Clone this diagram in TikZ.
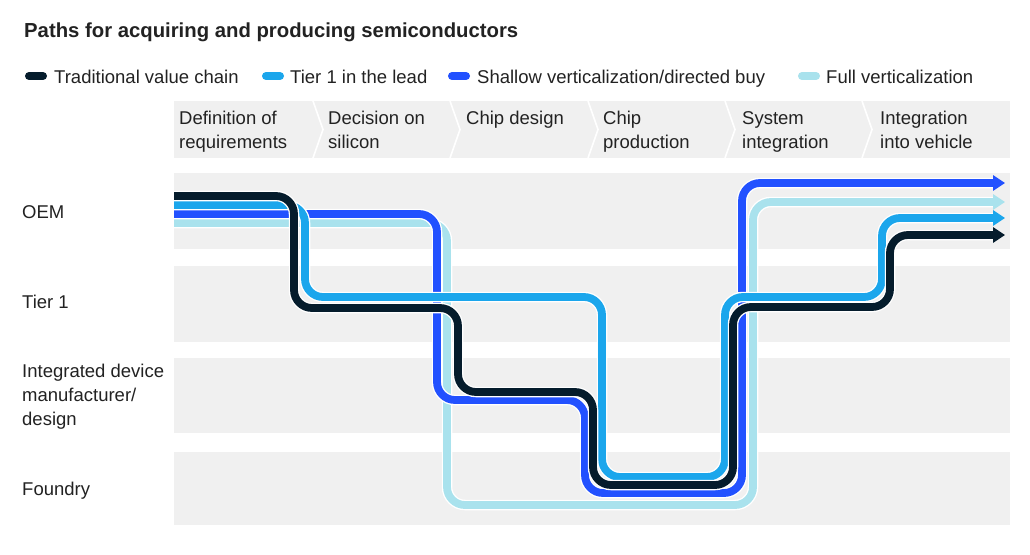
\documentclass[tikz,border=0pt]{standalone}
\usepackage{fontspec}
\setmainfont{Liberation Sans}
\usetikzlibrary{arrows.meta}
\definecolor{cBlack}{HTML}{051C2C}
\definecolor{cCyan}{HTML}{1BA6EC}
\definecolor{cBlue}{HTML}{2251FF}
\definecolor{cLight}{HTML}{A9E2ED}
\definecolor{band}{HTML}{F0F0F0}
\definecolor{txt}{HTML}{222222}
\tikzset{
  lbl/.style={anchor=base west, inner sep=0pt, text=txt, font=\fontsize{18.5}{24}\selectfont},
  mlbl/.style={anchor=north west, inner sep=0pt, align=left, text=txt, font=\fontsize{18.5}{24}\selectfont},
  bandbox/.style={fill=band, draw=none},
  sep/.style={draw=white, line width=1.6pt},
  outline/.style={draw=white, line width=10.5pt, rounded corners=18pt},
  route/.style={line width=7.8pt, rounded corners=18pt},
  tip/.style={-{Triangle[length=12pt,width=15pt]}},
  swatch/.style={line width=8pt, line cap=round},
}
\begin{document}
\begin{tikzpicture}[x=1pt,y=-1pt]
\useasboundingbox (0,0) rectangle (1030,554);
\fill[white] (0,0) rectangle (1030,554);

% title
\node[anchor=base west, inner sep=0pt, text=txt, font=\fontsize{20.3}{24}\selectfont\bfseries] (title) at (24,37) {Paths for acquiring and producing semiconductors};

% legend
\draw[swatch, cBlack] (29,76) -- (43,76);
\node[lbl] (lg1) at (54,83) {Traditional value chain};
\draw[swatch, cCyan] (266,76) -- (280,76);
\node[lbl] (lg2) at (290,83) {Tier 1 in the lead};
\draw[swatch, cBlue] (452,76) -- (466,76);
\node[lbl] (lg3) at (477,83) {Shallow verticalization/directed buy};
\draw[swatch, cLight] (802,76) -- (816,76);
\node[lbl] (lg4) at (826,83) {Full verticalization};

% header band
\fill[bandbox] (174,101) rectangle (1010,158);
\foreach \x in {313,450,588,725,862}{
  \draw[sep] (\x,101) -- (\x+10,129.5) -- (\x,158);
}
\node[mlbl] (h1) at (179,111) {Definition of\\requirements};
\node[mlbl] (h2) at (328,111) {Decision on\\silicon};
\node[mlbl] (h3) at (466,111) {Chip design};
\node[mlbl] (h4) at (603,111) {Chip\\production};
\node[mlbl] (h5) at (742,111) {System\\integration};
\node[mlbl] (h6) at (880,111) {Integration\\into vehicle};

% row bands
\fill[bandbox] (174,173) rectangle (1010,249);
\fill[bandbox] (174,266) rectangle (1010,342);
\fill[bandbox] (174,358) rectangle (1010,433);
\fill[bandbox] (174,452) rectangle (1010,525);

% row labels
\node[lbl] (r1) at (22,218) {OEM};
\node[lbl] (r2) at (22,308) {Tier 1};
\node[mlbl] (r3) at (22,364) {Integrated device\\manufacturer/\\design};
\node[lbl] (r4) at (22,495) {Foundry};

% start / end coordinates
\coordinate (sBlack) at (174,196);
\coordinate (sCyan) at (174,205);
\coordinate (sBlue) at (174,214);
\coordinate (sLight) at (174,223);
\coordinate (eBlue) at (1005,183);
\coordinate (eLight) at (1005,202);
\coordinate (eCyan) at (1005,218);
\coordinate (eBlack) at (1005,235);

\def\Plight{(sLight) -- (447,223) -- (447,505) -- (753,505) -- (753,202)}
\def\Pblue{(sBlue) -- (437,214) -- (437,400) -- (585,400) -- (585,493) -- (742,493) -- (742,183)}
\def\Pcyan{(sCyan) -- (305,205) -- (305,297) -- (602,297) -- (602,477) -- (725,477) -- (725,297) -- (882,297) -- (882,218)}
\def\Pblack{(sBlack) -- (294,196) -- (294,308) -- (458,308) -- (458,392) -- (593,392) -- (593,485) -- (733,485) -- (733,307) -- (890,307) -- (890,235)}

\draw[outline] \Plight -- (993,202);
\draw[route, cLight, tip] \Plight -- (eLight);
\draw[outline] \Pblue -- (993,183);
\draw[route, cBlue, tip] \Pblue -- (eBlue);
\draw[outline] \Pcyan -- (993,218);
\draw[route, cCyan, tip] \Pcyan -- (eCyan);
\draw[outline] \Pblack -- (993,235);
\draw[route, cBlack, tip] \Pblack -- (eBlack);
\end{tikzpicture}
\end{document}
